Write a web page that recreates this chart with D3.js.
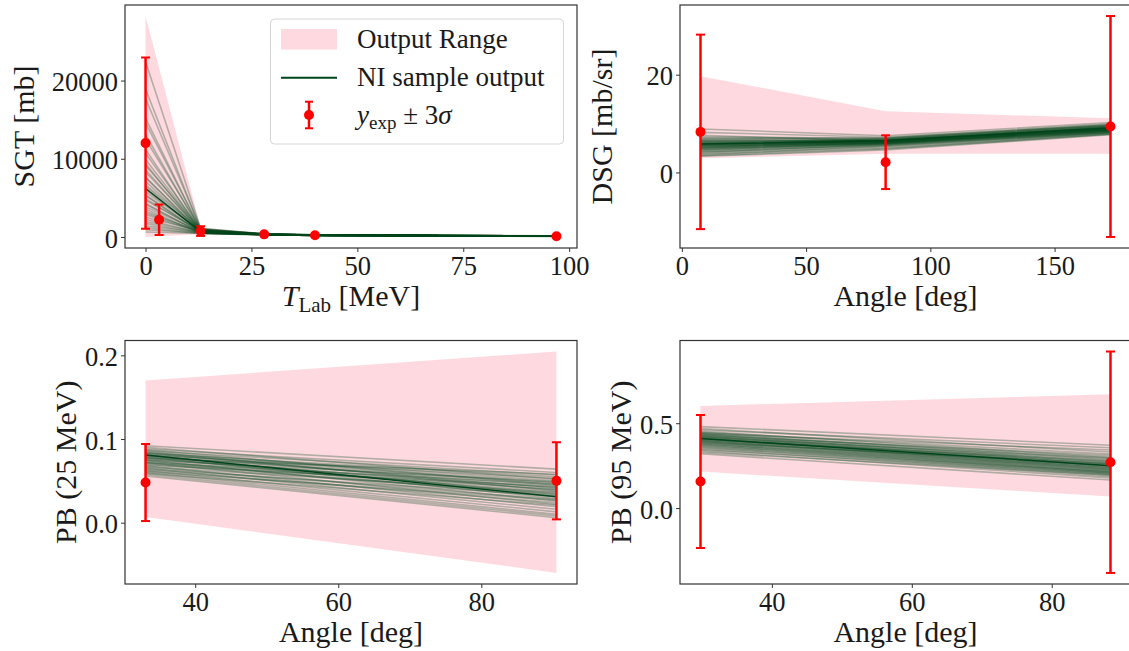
<!DOCTYPE html>
<html>
<head>
<meta charset="utf-8">
<script src="https://cdn.jsdelivr.net/npm/d3@7"></script>
<style>
  body { margin: 0; background: #fff; }
  svg text { font-family: "Liberation Serif", "DejaVu Serif", serif; fill: #1a1a1a; }
</style>
</head>
<body>
<svg id="fig" width="1129" height="651"></svg>
<script>
// ---------------- SGT (total cross section) vs T_Lab ----------------
const sgtGrid = [0, 13, 28, 40, 97];
const sgtLow  = [0, 350, 250, 150, 50];
const sgtHigh = [28250, 1250, 450, 320, 180];
const sgtAt0  = [22400, 18900, 17700, 15200, 14600, 13100, 12500, 11200, 10700, 9900, 9400, 9150, 8600, 8300, 7700, 7550, 7100, 6650, 6480, 6020, 5730, 5400, 5250, 4890, 4700, 4310, 4150, 3820, 3560, 3300, 3050, 2870, 2510, 2260, 1980, 1740, 1420, 1180, 930, 640];
const sgtAt13 = [1120, 980, 1050, 870, 930, 760, 1010, 690, 880, 820, 640, 950, 720, 860, 580, 790, 670, 905, 610, 740, 830, 550, 700, 660, 780, 520, 620, 710, 480, 590, 650, 540, 760, 500, 600, 470, 560, 430, 510, 450];
const sgtAt28 = [410, 380, 395, 350, 370, 330, 400, 320, 360, 345, 310, 385, 325, 355, 300, 340, 315, 375, 305, 335, 350, 295, 320, 310, 340, 290, 305, 330, 285, 300, 315, 290, 335, 285, 300, 280, 295, 275, 290, 280];
const sgtAt40 = [275, 255, 265, 240, 250, 230, 270, 225, 245, 238, 215, 260, 222, 242, 205, 235, 218, 252, 210, 232, 240, 205, 220, 214, 236, 200, 212, 228, 198, 208, 218, 202, 232, 196, 206, 192, 204, 190, 200, 195];
const sgtAt97 = [138, 126, 132, 118, 124, 110, 134, 106, 120, 116, 100, 128, 104, 118, 94, 114, 102, 124, 98, 112, 118, 92, 104, 100, 114, 88, 98, 108, 86, 94, 102, 90, 110, 84, 92, 80, 90, 76, 86, 82];
const sgtNI   = [6200, 700, 330, 225, 100];
const sgtExpX   = [0, 3.2, 13, 28, 40, 97];
const sgtExpY   = [12000, 2200, 750, 330, 220, 95];
const sgtExpErr = [10950, 1950, 620, 40, 25, 15];
const sgtXTicks = [0, 25, 50, 75, 100];
const sgtYTicks = [0, 10000, 20000];

// ---------------- DSG (differential cross section) vs angle ----------------
const dsgGrid = [7.5, 82, 172.5];
const dsgLow  = [2.9, 3.8, 3.8];
const dsgHigh = [19.7, 12.5, 11.1];
const dsgAt7   = [8.9, 8.2, 7.6, 7.3, 7.1, 6.9, 6.8, 6.6, 6.5, 6.4, 6.3, 6.2, 6.1, 6.0, 5.9, 5.85, 5.8, 5.7, 5.6, 5.55, 5.5, 5.4, 5.35, 5.3, 5.2, 5.1, 5.05, 5.0, 4.9, 4.8, 4.7, 4.6, 4.5, 4.3, 4.2, 4.0, 3.8, 3.6, 3.4, 3.3];
const dsgAt82  = [7.5, 7.2, 6.4, 7.0, 6.9, 6.6, 7.1, 6.3, 6.8, 6.5, 6.7, 6.1, 6.6, 6.4, 6.2, 6.9, 6.0, 6.5, 6.3, 5.9, 6.7, 6.2, 5.8, 6.4, 6.1, 5.7, 6.6, 6.0, 5.5, 6.3, 5.9, 5.3, 6.1, 5.6, 5.1, 5.8, 4.9, 5.4, 4.8, 4.6];
const dsgAt172 = [10.2, 9.9, 9.3, 9.8, 9.6, 9.1, 9.7, 9.0, 9.5, 8.9, 9.4, 8.8, 9.2, 9.3, 8.7, 9.6, 8.6, 9.1, 8.9, 8.5, 9.4, 8.8, 8.4, 9.0, 8.7, 8.3, 9.2, 8.6, 8.2, 8.9, 8.5, 8.1, 8.8, 8.3, 8.0, 8.6, 7.9, 8.2, 7.8, 7.7];
const dsgNI   = [5.8, 6.5, 9.1];
const dsgExpX   = [7.5, 82, 172.5];
const dsgExpY   = [8.3, 2.1, 9.4];
const dsgExpErr = [19.9, 5.5, 22.6];
const dsgXTicks = [0, 50, 100, 150];
const dsgYTicks = [0, 20];

// ---------------- PB (analyzing power) at 25 MeV ----------------
const pb25Grid = [33.06, 90.5];
const pb25Low  = [0.0067, -0.060];
const pb25High = [0.170, 0.2045];
const pb25At33 = [0.092, 0.090, 0.088, 0.087, 0.086, 0.085, 0.084, 0.083, 0.083, 0.082, 0.081, 0.081, 0.080, 0.079, 0.079, 0.078, 0.077, 0.077, 0.076, 0.075, 0.075, 0.074, 0.073, 0.072, 0.072, 0.071, 0.070, 0.069, 0.068, 0.067, 0.066, 0.065, 0.064, 0.063, 0.062, 0.061, 0.060, 0.059, 0.058, 0.056];
const pb25At90 = [0.064, 0.052, 0.060, 0.045, 0.057, 0.038, 0.050, 0.055, 0.041, 0.048, 0.033, 0.053, 0.044, 0.029, 0.047, 0.039, 0.058, 0.035, 0.042, 0.026, 0.049, 0.037, 0.031, 0.046, 0.022, 0.040, 0.034, 0.043, 0.019, 0.036, 0.028, 0.016, 0.032, 0.024, 0.013, 0.027, 0.010, 0.021, 0.008, 0.006];
const pb25NI   = [0.081, 0.031];
const pb25ExpX   = [33.06, 90.5];
const pb25ExpY   = [0.048, 0.050];
const pb25ExpErr = [0.046, 0.046];
const pb25XTicks = [40, 60, 80];
const pb25YTicks = [0.0, 0.1, 0.2];

// ---------------- PB (analyzing power) at 95 MeV ----------------
const pb95Grid = [29.8, 88.4];
const pb95Low  = [0.215, 0.068];
const pb95High = [0.602, 0.670];
const pb95At30 = [0.480, 0.468, 0.460, 0.452, 0.447, 0.443, 0.440, 0.437, 0.434, 0.431, 0.428, 0.425, 0.423, 0.420, 0.418, 0.415, 0.413, 0.410, 0.408, 0.405, 0.403, 0.400, 0.397, 0.395, 0.392, 0.389, 0.386, 0.383, 0.380, 0.377, 0.373, 0.369, 0.365, 0.360, 0.355, 0.349, 0.343, 0.336, 0.328, 0.320];
const pb95At88 = [0.370, 0.330, 0.355, 0.300, 0.318, 0.285, 0.342, 0.272, 0.296, 0.262, 0.310, 0.255, 0.280, 0.248, 0.292, 0.240, 0.268, 0.235, 0.258, 0.230, 0.276, 0.226, 0.250, 0.221, 0.244, 0.215, 0.262, 0.210, 0.238, 0.205, 0.228, 0.200, 0.218, 0.193, 0.212, 0.186, 0.203, 0.178, 0.195, 0.165];
const pb95NI   = [0.41, 0.25];
const pb95ExpX   = [29.8, 88.4];
const pb95ExpY   = [0.157, 0.27];
const pb95ExpErr = [0.392, 0.652];
const pb95XTicks = [40, 60, 80];
const pb95YTicks = [0.0, 0.5];

const legendLabels = ["Output Range", "NI sample output"];

// ---------------- drawing ----------------
const RANGE_COLOR = "#ffc0cb";
const SAMPLE_COLOR = "#00441b";
const EXP_COLOR = "#ff0000";
const TICK_FS = 26.5;
const LABEL_FS = 30;

const svg = d3.select("#fig");

function drawPanel(p, idx) {
  const { left, right, top, bottom } = p.box;
  const pad = ([a, b]) => { const m = (b - a) * 0.05; return [a - m, b + m]; };

  const x = d3.scaleLinear()
    .domain(pad(d3.extent(p.grid.concat(p.expX))))
    .range([left, right]);

  const cols = p.cols;
  const samples = cols[0].map((_, i) => cols.map(c => c[i]));
  const yVals = [].concat(p.low, p.high, ...samples,
    p.expY.map((v, i) => v - p.expErr[i]),
    p.expY.map((v, i) => v + p.expErr[i]));
  const y = d3.scaleLinear().domain(pad(d3.extent(yVals))).range([bottom, top]);

  const clipId = "clip" + idx;
  svg.append("clipPath").attr("id", clipId)
    .append("rect").attr("x", left).attr("y", top)
    .attr("width", right - left).attr("height", bottom - top);

  const g = svg.append("g").attr("clip-path", `url(#${clipId})`);

  // output range band
  const band = p.grid.map((gx, i) => ({ gx, lo: p.low[i], hi: p.high[i] }));
  g.append("path")
    .datum(band)
    .attr("d", d3.area().x(d => x(d.gx)).y0(d => y(d.lo)).y1(d => y(d.hi)))
    .attr("fill", RANGE_COLOR).attr("fill-opacity", 0.6);

  // sample outputs
  const line = d3.line().x((d, i) => x(p.grid[i])).y(d => y(d));
  g.selectAll("path.sample").data(samples).join("path")
    .attr("class", "sample")
    .attr("d", line)
    .attr("fill", "none")
    .attr("stroke", SAMPLE_COLOR)
    .attr("stroke-width", 1.6)
    .attr("stroke-opacity", 0.3)
    .attr("stroke-linejoin", "round");

  g.append("path").datum(p.ni)
    .attr("d", line).attr("fill", "none")
    .attr("stroke", SAMPLE_COLOR).attr("stroke-width", 1.5);

  // experimental points with 3-sigma bars
  const expPts = p.expX.map((ex, i) => ({ ex, ey: p.expY[i], er: p.expErr[i] }));
  const eg = g.selectAll("g.exp").data(expPts).join("g").attr("class", "exp");
  eg.append("line")
    .attr("x1", d => x(d.ex)).attr("x2", d => x(d.ex))
    .attr("y1", d => y(d.ey - d.er)).attr("y2", d => y(d.ey + d.er))
    .attr("stroke", EXP_COLOR).attr("stroke-width", 2.5);
  [-1, 1].forEach(s => {
    eg.append("line")
      .attr("x1", d => x(d.ex) - 4.5).attr("x2", d => x(d.ex) + 4.5)
      .attr("y1", d => y(d.ey + s * d.er)).attr("y2", d => y(d.ey + s * d.er))
      .attr("stroke", EXP_COLOR).attr("stroke-width", 2);
  });
  eg.append("circle")
    .attr("cx", d => x(d.ex)).attr("cy", d => y(d.ey)).attr("r", 5)
    .attr("fill", EXP_COLOR);

  // axes
  const xa = svg.append("g").attr("transform", `translate(0,${bottom})`)
    .call(d3.axisBottom(x).tickValues(p.xTicks).tickSize(4).tickPadding(4)
      .tickFormat(d3.format("d")));
  const ya = svg.append("g").attr("transform", `translate(${left},0)`)
    .call(d3.axisLeft(y).tickValues(p.yTicks).tickSize(4).tickPadding(3)
      .tickFormat(p.yFmt));
  [xa, ya].forEach(a => {
    a.select(".domain").remove();
    a.selectAll(".tick line").attr("stroke", "#333");
    a.selectAll(".tick text").attr("font-size", TICK_FS)
      .style("font-family", "'Liberation Serif', serif").attr("fill", "#1a1a1a");
  });
  ya.selectAll(".tick text").attr("dy", "0.38em");

  // frame
  svg.append("rect")
    .attr("x", left).attr("y", top)
    .attr("width", right - left).attr("height", bottom - top)
    .attr("fill", "none").attr("stroke", "#333").attr("stroke-width", 1.2);

  // axis titles
  const xt = svg.append("text")
    .attr("x", (left + right) / 2).attr("y", bottom + 57.7)
    .attr("text-anchor", "middle").attr("font-size", LABEL_FS);
  p.xLabel(xt);

  svg.append("text")
    .attr("transform", `translate(${p.yLabelX},${(top + bottom) / 2}) rotate(-90)`)
    .attr("text-anchor", "middle").attr("font-size", LABEL_FS)
    .text(p.yLabel);

  return { x, y };
}

const angleLabel = t => t.text("Angle [deg]");

drawPanel({
  box: { left: 125, right: 577, top: 5, bottom: 248 },
  grid: sgtGrid, low: sgtLow, high: sgtHigh,
  cols: [sgtAt0, sgtAt13, sgtAt28, sgtAt40, sgtAt97], ni: sgtNI,
  expX: sgtExpX, expY: sgtExpY, expErr: sgtExpErr,
  xTicks: sgtXTicks, yTicks: sgtYTicks, yFmt: d3.format("d"),
  xLabel: t => {
    t.append("tspan").attr("font-style", "italic").text("T");
    t.append("tspan").attr("font-size", 21).attr("dy", 6).text("Lab");
    t.append("tspan").attr("dy", -6).text(" [MeV]");
  },
  yLabel: "SGT [mb]", yLabelX: 33.5
}, 0);

drawPanel({
  box: { left: 680, right: 1131, top: 5, bottom: 248 },
  grid: dsgGrid, low: dsgLow, high: dsgHigh,
  cols: [dsgAt7, dsgAt82, dsgAt172], ni: dsgNI,
  expX: dsgExpX, expY: dsgExpY, expErr: dsgExpErr,
  xTicks: dsgXTicks, yTicks: dsgYTicks, yFmt: d3.format("d"),
  xLabel: angleLabel,
  yLabel: "DSG [mb/sr]", yLabelX: 612
}, 1);

drawPanel({
  box: { left: 125, right: 577, top: 340.5, bottom: 584 },
  grid: pb25Grid, low: pb25Low, high: pb25High,
  cols: [pb25At33, pb25At90], ni: pb25NI,
  expX: pb25ExpX, expY: pb25ExpY, expErr: pb25ExpErr,
  xTicks: pb25XTicks, yTicks: pb25YTicks, yFmt: d3.format(".1f"),
  xLabel: angleLabel,
  yLabel: "PB (25 MeV)", yLabelX: 76
}, 2);

drawPanel({
  box: { left: 680, right: 1131, top: 340.5, bottom: 584 },
  grid: pb95Grid, low: pb95Low, high: pb95High,
  cols: [pb95At30, pb95At88], ni: pb95NI,
  expX: pb95ExpX, expY: pb95ExpY, expErr: pb95ExpErr,
  xTicks: pb95XTicks, yTicks: pb95YTicks, yFmt: d3.format(".1f"),
  xLabel: angleLabel,
  yLabel: "PB (95 MeV)", yLabelX: 631
}, 3);

// legend
const lg = svg.append("g");
lg.append("rect")
  .attr("x", 270.5).attr("y", 19).attr("width", 293).attr("height", 125)
  .attr("rx", 4).attr("fill", "#fff").attr("fill-opacity", 0.8)
  .attr("stroke", "#d6d6d6").attr("stroke-width", 1);
lg.append("rect")
  .attr("x", 281).attr("y", 29).attr("width", 56).attr("height", 20.5)
  .attr("fill", RANGE_COLOR).attr("fill-opacity", 0.6);
lg.append("line")
  .attr("x1", 281).attr("x2", 337).attr("y1", 77.7).attr("y2", 77.7)
  .attr("stroke", SAMPLE_COLOR).attr("stroke-width", 2);
lg.append("line")
  .attr("x1", 309).attr("x2", 309).attr("y1", 101.7).attr("y2", 128.3)
  .attr("stroke", EXP_COLOR).attr("stroke-width", 2.5);
[101.7, 128.3].forEach(cy => lg.append("line")
  .attr("x1", 305).attr("x2", 313).attr("y1", cy).attr("y2", cy)
  .attr("stroke", EXP_COLOR).attr("stroke-width", 2));
lg.append("circle").attr("cx", 309).attr("cy", 115).attr("r", 5).attr("fill", EXP_COLOR);

const LEG_FS = 27;
lg.append("text").attr("x", 357).attr("y", 47.5).attr("font-size", LEG_FS).text(legendLabels[0]);
lg.append("text").attr("x", 357).attr("y", 86).attr("font-size", LEG_FS).text(legendLabels[1]);
const ex = lg.append("text").attr("x", 357).attr("y", 124).attr("font-size", LEG_FS);
ex.append("tspan").attr("font-style", "italic").text("y");
ex.append("tspan").attr("font-size", 19).attr("dy", 5).text("exp");
ex.append("tspan").attr("dy", -5).text(" \u00b1 3");
ex.append("tspan").attr("font-style", "italic").text("\u03c3");
</script>
</body>
</html>
